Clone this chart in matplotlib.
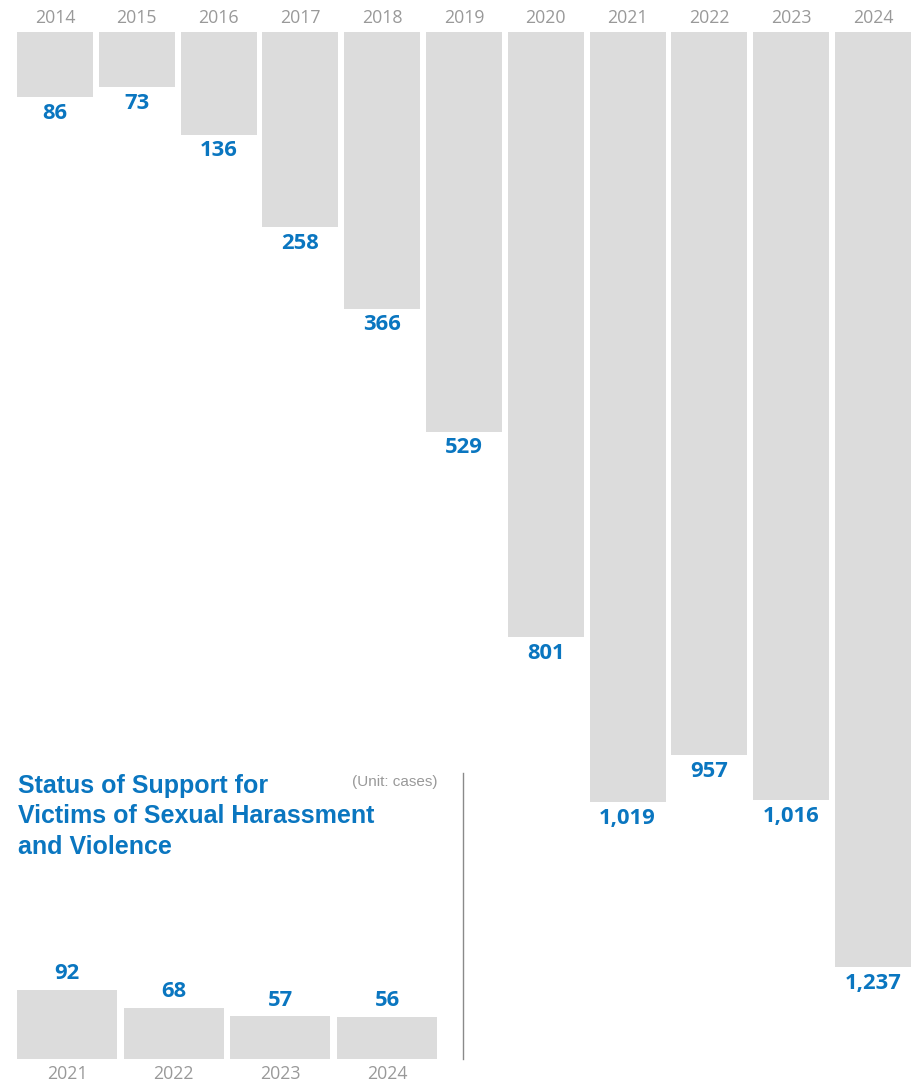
import matplotlib
matplotlib.use("Agg")
import matplotlib.pyplot as plt
from matplotlib.lines import Line2D

# ---- data ----
years_main = ["2014", "2015", "2016", "2017", "2018", "2019", "2020", "2021", "2022", "2023", "2024"]
values_main = [86, 73, 136, 258, 366, 529, 801, 1019, 957, 1016, 1237]
years_inset = ["2021", "2022", "2023", "2024"]
values_inset = [92, 68, 57, 56]
title_lines = ["Status of Support for", "Victims of Sexual Harassment", "and Violence"]
unit_text = "(Unit: cases)"

BLUE = "#0A76C0"
BAR = "#DCDCDC"
GRAY = "#999999"

W, H = 913, 1084
fig = plt.figure(figsize=(W / 100, H / 100), dpi=100)

def px_axes(left, top, right, bottom):
    return fig.add_axes([left / W, 1 - bottom / H, (right - left) / W, (bottom - top) / H])

YEAR_FONT = dict(family="Open Sans", fontweight="normal", fontsize=12.8, color=GRAY)
VAL_FONT = dict(family="Open Sans", fontweight="bold", fontsize=15.8, color=BLUE)

# ---- main hanging bars ----
step, bw = 81.8, 76.0
frac = bw / step
n = len(values_main)
left = 17
right = left + (n - 1) * step + bw
ax = px_axes(left, 32, right, 967)
xs = list(range(n))
ax.bar(xs, values_main, width=frac, color=BAR, bottom=0)
ax.set_xlim(-frac / 2, n - 1 + frac / 2)
ax.set_ylim(max(values_main), 0)
for s in ax.spines.values():
    s.set_visible(False)
ax.set_yticks([])
ax.xaxis.tick_top()
ax.set_xticks(xs)
ax.set_xticklabels(years_main, **YEAR_FONT)
ax.tick_params(axis="x", length=0, pad=3.5)
for x, v in zip(xs, values_main):
    ax.annotate(f"{v:,}", (x, v), xytext=(0, -4), textcoords="offset points",
                ha="center", va="top", annotation_clip=False, **VAL_FONT)

# ---- inset ----
m = len(values_inset)
ibw = 100.0
istep = (420 - ibw) / (m - 1)
ifrac = ibw / istep
iright = 17 + (m - 1) * istep + ibw
ax2 = px_axes(17, 959, iright, 1059)
ix = list(range(m))
ax2.bar(ix, values_inset, width=ifrac, color=BAR)
ax2.set_xlim(-ifrac / 2, m - 1 + ifrac / 2)
ax2.set_ylim(0, 100 / 0.75)
for s in ax2.spines.values():
    s.set_visible(False)
ax2.set_yticks([])
ax2.set_xticks(ix)
ax2.set_xticklabels(years_inset, **YEAR_FONT)
ax2.tick_params(axis="x", length=0, pad=4.5)
for x, v in zip(ix, values_inset):
    ax2.annotate(f"{v:,}", (x, v), xytext=(0, 4), textcoords="offset points",
                 ha="center", va="bottom", annotation_clip=False, **VAL_FONT)

for i, line in enumerate(title_lines):
    fig.text(18 / W, 1 - (783 + 30.7 * i) / H, line, ha="left", va="center_baseline",
             family="Liberation Sans", fontweight="bold", fontsize=18,
             color=BLUE)
fig.text(437 / W, 1 - 782 / H, unit_text, ha="right", va="center",
         family="Liberation Sans", fontsize=11, color=GRAY)

fig.add_artist(Line2D([463 / W, 463 / W], [1 - 773 / H, 1 - 1059 / H],
                      transform=fig.transFigure, color="#8A8A8A", lw=1))

fig.savefig("out.png", dpi=100, facecolor="white")
